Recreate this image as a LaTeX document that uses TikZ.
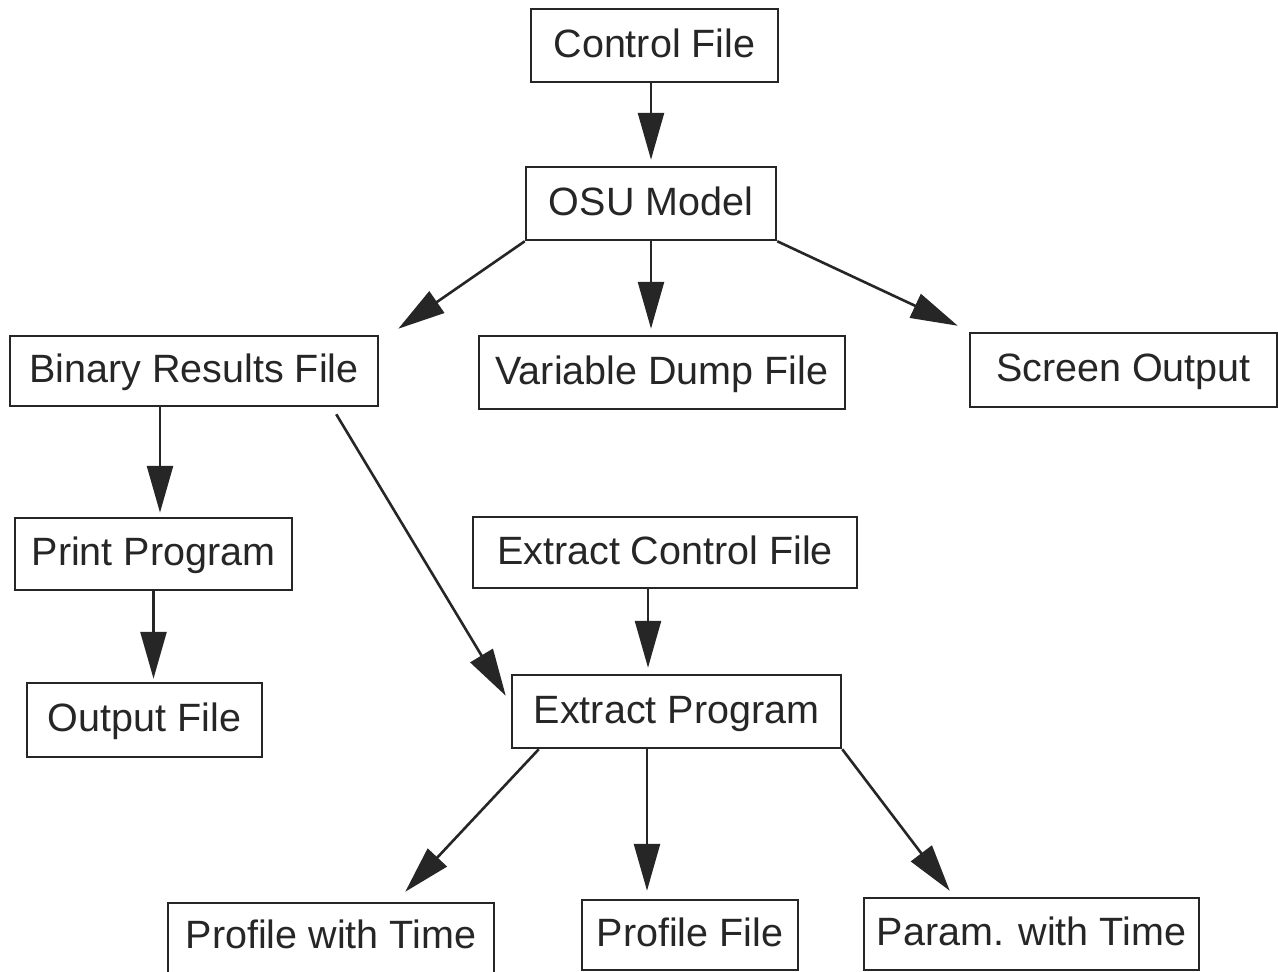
\documentclass[tikz,border=0pt]{standalone}
\usepackage{fontspec}
\setmainfont{Liberation Sans}
\usetikzlibrary{arrows.meta,calc}
\definecolor{ink}{RGB}{38,38,38}
\begin{document}
\begin{tikzpicture}[x=1pt,y=-1pt,
  box/.style={draw=ink, line width=2.5pt, text=ink, inner sep=0pt,
    font=\fontsize{39.5}{46}\selectfont, text height=28.4pt, text depth=5pt},
  flow/.style={draw=ink, line width=2.6pt,
    -{Triangle[length=47pt,width=26pt]}}]
\clip (0,0) rectangle (1278,972);
\fill[white] (0,0) rectangle (1278,972);

% boxes
\node[box, minimum width=247, minimum height=73] (ctrl) at (654.5,45.5) {Control File};
\node[box, minimum width=250, minimum height=73] (osu)  at (651,203.5)  {OSU Model};
\node[box, minimum width=368, minimum height=70] (bin)  at (194,371)    {Binary Results File};
\node[box, minimum width=366, minimum height=73] (var)  at (662,372.5)  {Variable Dump File};
\node[box, minimum width=307, minimum height=74] (scr)  at (1123.5,370) {Screen Output};
\node[box, minimum width=277, minimum height=72] (prt)  at (153.5,554)  {Print Program};
\node[box, minimum width=384, minimum height=71] (ecf)  at (665,552.5)  {Extract Control File};
\node[box, minimum width=235, minimum height=74] (out)  at (144.5,720)  {Output File};
\node[box, minimum width=329, minimum height=73] (ext)  at (676.5,711.5){Extract Program};
\node[box, minimum width=326, minimum height=77, text depth=15.4pt] (pwt) at (331,941.5) {Profile with Time};
\node[box, minimum width=216, minimum height=70] (pfl)  at (690,935)    {Profile File};
\node[box, minimum width=335, minimum height=72] (par)  at (1031.5,934) {Param. with Time};

% connectors
\draw[flow] (ctrl.south -| osu.north) -- ($(osu.north)+(0,-6)$);
\draw[flow] (osu.south west) -- ($(bin.north east)+(19,-6)$);
\draw[flow] (osu.south) -- ($(osu.south |- var.north)+(0,-6)$);
\draw[flow] (osu.south east) -- ($(scr.north west)+(-11,-6)$);
\draw[flow] ($(bin.south -| prt.north)+(6.5,0)$) -- ($(prt.north)+(6.5,-4)$);
\draw[flow] ($(bin.south east)+(-43,7)$) -- ($(ext.north west)+(-5,22)$);
\draw[flow] (prt.south) -- ($(prt.south |- out.north)+(0,-3)$);
\draw[flow] ($(ecf.south)+(-17,0)$) -- ($(ecf.south |- ext.north)+(-17,-6)$);
\draw[flow] ($(ext.south west)+(28,0)$) -- ($(pwt.north east)+(-90,-10)$);
\draw[flow] ($(ext.south)+(-29.5,0)$) -- ($(ext.south |- pfl.north)+(-29.5,-8)$);
\draw[flow] (ext.south east) -- ($(par.north west)+(87,-6)$);
\end{tikzpicture}
\end{document}
